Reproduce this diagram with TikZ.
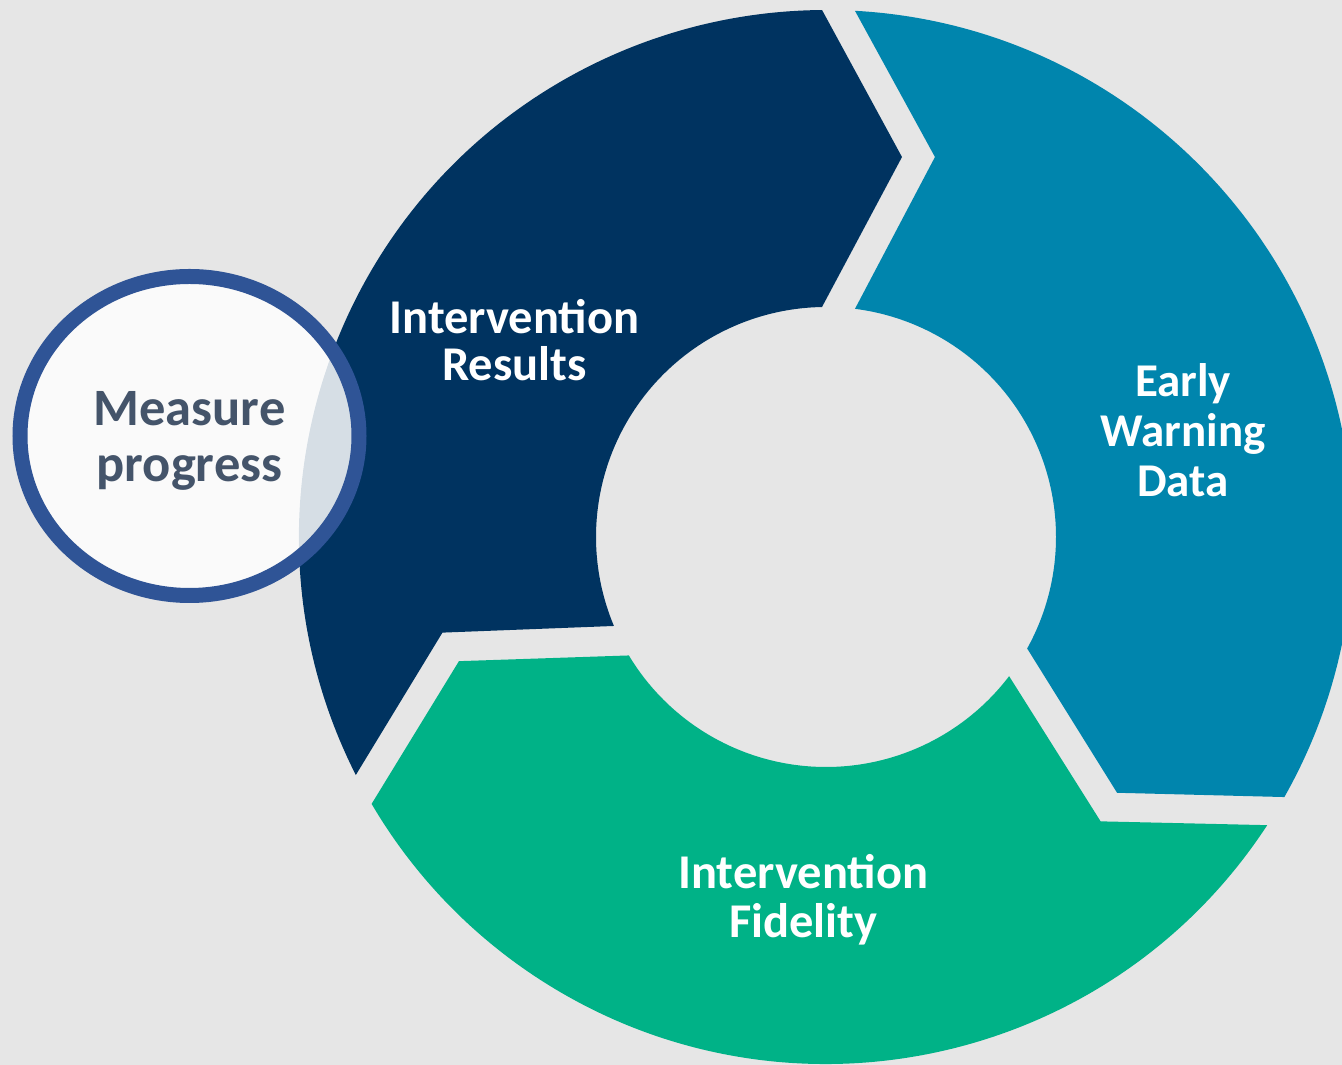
\documentclass[tikz,border=0pt]{standalone}
\usepackage{fontspec}
\setmainfont{Carlito}
\definecolor{bgc}{HTML}{E6E6E6}
\definecolor{navyc}{HTML}{003360}
\definecolor{tealc}{HTML}{0085AD}
\definecolor{greenc}{HTML}{00B287}
\definecolor{ringc}{HTML}{2F5496}
\definecolor{mptext}{HTML}{44546A}
\begin{document}
\begin{tikzpicture}[x=1pt,y=1pt,
  seglabel/.style={align=center,text=white,font=\bfseries\fontsize{48.5}{47}\selectfont,inner sep=0pt},
  focus/.style={draw=ringc,line width=15pt,fill=white,fill opacity=0.84,draw opacity=1}]
\useasboundingbox (0,0) rectangle (1342,1065);
\fill[bgc] (0,0) rectangle (1342,1065);
\begin{scope}[shift={(826,528)}]
  % Intervention Results (navy)
  \fill[navyc] (194:395.3pt) -- (206.85:527pt)
     arc[start angle=206.85,end angle=90.43,radius=527pt]
     -- (78.69:387.5pt) -- (91:230pt)
     arc[start angle=91,end angle=202.76,radius=230pt] -- cycle;
  % Early Warning Data (teal)
  \fill[tealc] (74:395.3pt) -- (86.85:527pt)
     arc[start angle=86.85,end angle=-29.57,radius=527pt]
     -- (-41.31:387.5pt) -- (-29:230pt)
     arc[start angle=-29,end angle=82.76,radius=230pt] -- cycle;
  % Intervention Fidelity (green)
  \fill[greenc] (-46:395.3pt) -- (-33.15:527pt)
     arc[start angle=-33.15,end angle=-149.57,radius=527pt]
     -- (-161.31:387.5pt) -- (-149:230pt)
     arc[start angle=-149,end angle=-37.24,radius=230pt] -- cycle;
\end{scope}
\node[seglabel] (ir) at (514.5,725) {Intervention\\Results};
\node[seglabel,font=\bfseries\fontsize{47}{50}\selectfont] (ewd) at (1183,635) {Early\\Warning\\Data};
\node[seglabel,font=\bfseries\fontsize{48.5}{48.5}\selectfont] (if) at (803.3,165) {Intervention\\Fidelity};
\draw[focus] (189.5,629) ellipse [x radius=169.5, y radius=159.5];
\node[align=center,text=mptext,font=\bfseries\fontsize{52.5}{56}\selectfont,inner sep=0pt] (mp) at (189.5,624) {Measure\\progress};
\end{tikzpicture}
\end{document}
